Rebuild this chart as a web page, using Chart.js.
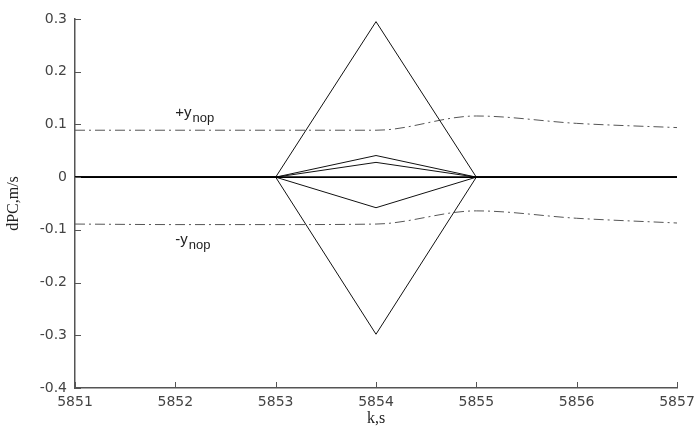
<!DOCTYPE html>
<html>
<head>
<meta charset="utf-8">
<script src="https://cdn.jsdelivr.net/npm/chart.js@4.4.1/dist/chart.umd.min.js"></script>
<style>
  html, body { margin: 0; padding: 0; background: #fff; }
  #wrap { width: 696px; height: 428px; }
</style>
</head>
<body>
<div id="wrap"><canvas id="c" width="696" height="428"></canvas></div>
<script>
// time steps k, s
const kSteps = [5851, 5852, 5853, 5854, 5855, 5856, 5857];

// dPC deviations for each run (m/s)
const runUpper  = [0, 0, 0, 0.295, 0, 0, 0];
const runMid1   = [0, 0, 0, 0.041, 0, 0, 0];
const runMid2   = [0, 0, 0, 0.028, 0, 0, 0];
const runMid3   = [0, 0, 0, -0.058, 0, 0, 0];
const runLower  = [0, 0, 0, -0.298, 0, 0, 0];
const baseline  = [0, 0, 0, 0, 0, 0, 0];

// admissible bounds +y_nop / -y_nop
const yNopPlus  = [0.089, 0.089, 0.089, 0.089, 0.116, 0.102, 0.094];
const yNopMinus = [-0.089, -0.090, -0.090, -0.089, -0.064, -0.078, -0.087];

// axis ticks
const yTicks = [0.3, 0.2, 0.1, 0, -0.1, -0.2, -0.3, -0.4];

// bound captions: [main, subscript, k, value]
const boundLabels = [
  ['+y', 'nop', 5852.0, 0.114],
  ['-y', 'nop', 5852.0, -0.126]
];

const pts = arr => arr.map((v, i) => ({ x: kSteps[i], y: v }));

function line(data, opts) {
  return Object.assign({
    data: pts(data),
    borderColor: '#111',
    borderWidth: 1,
    pointRadius: 0,
    tension: 0,
    fill: false
  }, opts || {});
}

const datasets = [
  line(baseline, { borderWidth: 1.8, borderColor: '#000' }),
  line(runUpper),
  line(runMid1),
  line(runMid2),
  line(runMid3),
  line(runLower),
  line(yNopPlus, { borderColor: '#555', borderDash: [10, 4, 2, 4], borderWidth: 1, cubicInterpolationMode: 'monotone' }),
  line(yNopMinus, { borderColor: '#555', borderDash: [10, 4, 2, 4], borderWidth: 1, cubicInterpolationMode: 'monotone' })
];

// inward tick marks and bound captions
const decor = {
  id: 'decor',
  afterDatasetsDraw(chart) {
    const ctx = chart.ctx;
    const xs = chart.scales.x, ys = chart.scales.y;
    const area = chart.chartArea;
    ctx.save();
    ctx.strokeStyle = '#555';
    ctx.lineWidth = 1;
    ctx.beginPath();
    yTicks.forEach(v => {
      const y = Math.round(ys.getPixelForValue(v)) + 0.5;
      ctx.moveTo(area.left, y);
      ctx.lineTo(area.left + 6, y);
    });
    kSteps.forEach(k => {
      const x = Math.round(xs.getPixelForValue(k)) + 0.5;
      ctx.moveTo(x, area.bottom);
      ctx.lineTo(x, area.bottom - 6);
    });
    ctx.stroke();

    ctx.fillStyle = '#222';
    ctx.textBaseline = 'alphabetic';
    ctx.textAlign = 'left';
    boundLabels.forEach(([main, sub, k, v]) => {
      const x = xs.getPixelForValue(k);
      const y = ys.getPixelForValue(v);
      ctx.font = '15px "Liberation Sans", Arial, sans-serif';
      ctx.fillText(main, x, y);
      const w = ctx.measureText(main).width;
      ctx.font = '13px "Liberation Sans", Arial, sans-serif';
      ctx.fillText(sub, x + w + 1, y + 5);
    });
    ctx.restore();
  }
};

new Chart(document.getElementById('c'), {
  type: 'line',
  data: { datasets },
  plugins: [decor],
  options: {
    responsive: false,
    animation: false,
    events: [],
    layout: { padding: { top: 19, right: 0, bottom: 0, left: 4 } },
    plugins: { legend: { display: false }, tooltip: { enabled: false } },
    scales: {
      x: {
        type: 'linear',
        min: 5851,
        max: 5857,
        afterFit: s => { s.height = 40; s.paddingRight = 19; },
        afterBuildTicks: s => { s.ticks = kSteps.map(v => ({ value: v })); },
        border: { display: true, color: '#555', width: 1.5 },
        grid: { display: true, drawOnChartArea: false, drawTicks: false },
        ticks: {
          padding: 6,
          color: '#444',
          font: { family: '"DejaVu Sans", Verdana, sans-serif', size: 14 },
          maxRotation: 0,
          callback: v => String(v)
        },
        title: {
          display: true,
          text: 'k,s',
          color: '#222',
          padding: { top: 0, bottom: 0 },
          font: { family: '"Liberation Serif", "Times New Roman", serif', size: 16 }
        }
      },
      y: {
        type: 'linear',
        min: -0.4,
        max: 0.3,
        afterFit: s => { s.width = 71; },
        afterBuildTicks: s => { s.ticks = yTicks.map(v => ({ value: v })); },
        border: { display: true, color: '#555', width: 1.5 },
        grid: { display: true, drawOnChartArea: false, drawTicks: false },
        ticks: {
          padding: 8,
          color: '#444',
          font: { family: '"DejaVu Sans", Verdana, sans-serif', size: 14 },
          callback: v => (Math.round(v * 10) / 10).toString()
        },
        title: {
          display: true,
          text: 'dPC,m/s',
          color: '#222',
          padding: { top: 0, bottom: 0 },
          font: { family: '"Liberation Serif", "Times New Roman", serif', size: 16 }
        }
      }
    }
  }
});
</script>
</body>
</html>
